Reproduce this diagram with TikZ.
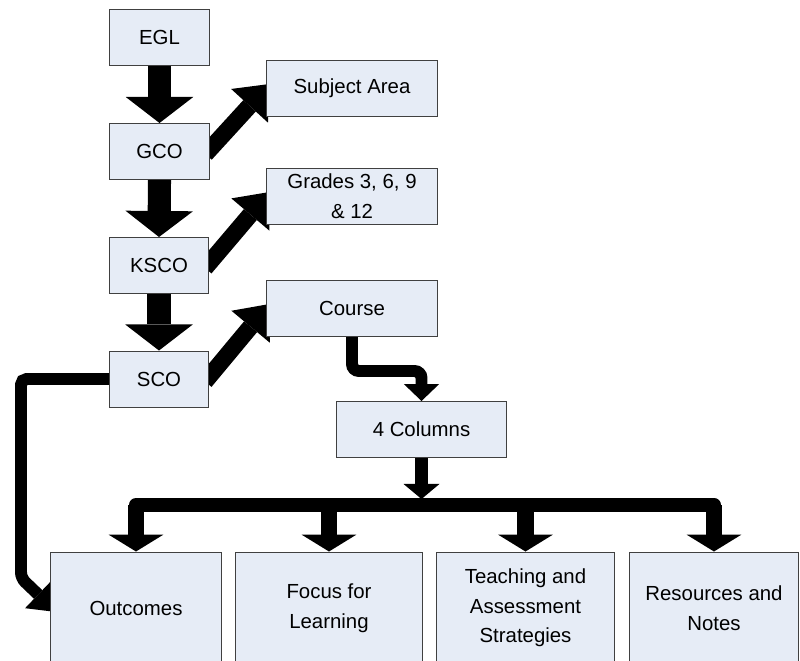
\documentclass[tikz,border=0pt]{standalone}
\usepackage{fontspec}
\setmainfont{Liberation Sans}
\usepackage{tikz}
\usetikzlibrary{arrows.meta,positioning,calc,backgrounds}
\definecolor{boxblue}{RGB}{230,236,246}
\definecolor{boxline}{RGB}{64,64,64}

\begin{document}
\begin{tikzpicture}[
  x=0.025cm, y=-0.025cm,
  block/.style={draw=boxline, line width=0.7pt, fill=boxblue, minimum width=2.475cm, minimum height=1.4cm, inner sep=2pt, align=center, font=\fontsize{14.5}{21}\selectfont},
  wideblock/.style={block, minimum width=4.25cm},
  colblock/.style={block, minimum height=2.8cm},
  downarrow/.style={-{Triangle[width=48pt,length=18.5pt,line width=0pt]}, line width=16.4pt},
  slant/.style={-{Triangle[width=35.5pt,length=21pt,line width=0pt]}, line width=12pt},
  elbow/.style={-{Triangle[width=25pt,length=12pt,line width=0pt]}, line width=8.5pt, rounded corners=5pt},
  feed/.style={-{Triangle[width=25.6pt,length=10.7pt,line width=0pt]}, line width=9.2pt},
  drop/.style={-{Triangle[width=39pt,length=12pt,line width=0pt]}, line width=12pt},
  busline/.style={line width=10pt, line cap=round},
  backline/.style={-{Triangle[width=27pt,length=18pt,line width=0pt]}, line width=8.5pt, rounded corners=4pt}
]
\useasboundingbox (0,0) rectangle (800,660);
\clip (0,0) rectangle (800,660);

% left column
\node[block] (egl) at (159.5,37.5) {EGL};
\node[block] (gco) at (159.5,151.5) {GCO};
\node[block] (ksco) at (159,265.5) {KSCO};
\node[block] (sco) at (159,379) {SCO};

% right column
\node[wideblock] (subj) at (352,88) {Subject Area};
\node[wideblock] (grades) at (352,196) {Grades 3, 6, 9\\\& 12};
\node[wideblock] (course) at (352,308) {Course};
\node[wideblock, minimum width=4.225cm] (cols) at (421.5,429.5) {4 Columns};

% the four columns
\node[colblock, minimum width=4.25cm] (outc) at (136,608) {Outcomes};
\node[colblock, minimum width=4.65cm] (focus) at (329,608) {Focus for\\Learning};
\node[colblock, minimum width=4.425cm] (teach) at (525.5,608) {Teaching and\\Assessment\\Strategies};
\node[colblock, minimum width=4.2cm] (res) at (714,608) {Resources and\\Notes};

\begin{scope}[on background layer]
  \draw[downarrow] (egl.south) -- (gco.north);
  \draw[downarrow] (gco.south) -- (ksco.north);
  \draw[downarrow] (ksco.south) -- (sco.north);
  \draw[slant] ($(gco.east)+(-4,2.5)$) -- ($(subj.west)+(3,-4)$);
  \draw[slant] ($(ksco.east)+(-4,2.5)$) -- ($(grades.west)+(3,-4)$);
  \draw[slant] ($(sco.east)+(-4,2.5)$) -- ($(course.west)+(3,-4)$);
  \draw[elbow] (course.south) |- ($(cols.north)+(0,-30)$) -- (cols.north);
  \draw[feed] (cols.south) -- ++(0,41);
  \coordinate (busl) at (136,505);
  \coordinate (busr) at (714,505);
  \draw[busline] (busl) -- (busr);
  \foreach \n in {outc,focus,teach,res}
    \draw[drop] (\n.north |- busl) -- (\n.north);
  \draw[backline] (sco.west) -- (21,379) -- (21,578) -- ($(outc.west)+(6,4)$);
\end{scope}
\end{tikzpicture}
\end{document}
